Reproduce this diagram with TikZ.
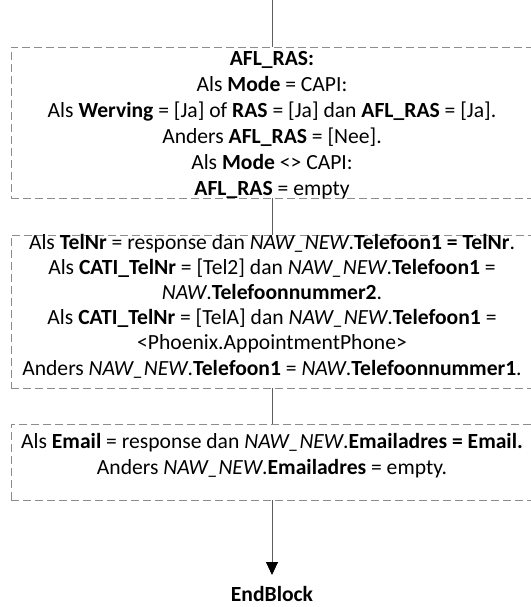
\documentclass[tikz,border=0pt]{standalone}
\usepackage{fontspec}
\setmainfont{Carlito}
\usetikzlibrary{arrows.meta}
\definecolor{boxgray}{RGB}{140,140,140}
\definecolor{linegray}{RGB}{95,95,95}
\tikzset{
  x=1pt,y=-1pt,
  dbox/.style={draw=boxgray,line width=0.9pt,dash pattern=on 8pt off 4pt,rectangle,minimum width=522pt,inner sep=0pt},
  txt/.style={align=center,font=\fontsize{21.6}{25.2}\selectfont,inner sep=0pt},
  conn/.style={draw=linegray,line width=0.9pt},
}
\begin{document}
\begin{tikzpicture}
\useasboundingbox (0,0) rectangle (530,607);
\coordinate (top) at (272,0);
\node[dbox,minimum height=151pt] (b1) at (272,122.5) {};
\node[txt,font=\fontsize{21.6}{26}\selectfont] (t1) at (272,125.5) {\textbf{AFL\_RAS:}\\
Als \textbf{Mode} = CAPI:\\
Als \textbf{Werving} = [Ja] of \textbf{RAS} = [Ja] dan \textbf{AFL\_RAS} = [Ja].\\
Anders \textbf{AFL\_RAS} = [Nee].\\
Als \textbf{Mode} <> CAPI:\\
\textbf{AFL\_RAS} = empty};
\node[dbox,minimum height=153pt] (b2) at (272,311.5) {};
\node[txt] (t2) at (272,306) {Als \textbf{TelNr} = response dan \textit{NAW\_NEW}.\textbf{Telefoon1 = TelNr}.\\
Als \textbf{CATI\_TelNr} = [Tel2] dan \textit{NAW\_NEW}.\textbf{Telefoon1} =\\
\textit{NAW}.\textbf{Telefoonnummer2}.\\
Als \textbf{CATI\_TelNr} = [TelA] dan \textit{NAW\_NEW}.\textbf{Telefoon1} =\\
<Phoenix.AppointmentPhone>\\
Anders \textit{NAW\_NEW}.\textbf{Telefoon1} = \textit{NAW}.\textbf{Telefoonnummer1}.};
\node[dbox,minimum height=76pt] (b3) at (272,462) {};
\node[txt,font=\fontsize{21.6}{26}\selectfont] (t3) at (272,456) {Als \textbf{Email} = response dan \textit{NAW\_NEW}.\textbf{Emailadres = Email.}\\
Anders \textit{NAW\_NEW}.\textbf{Emailadres} = empty.};
\node[txt,font=\fontsize{21.6}{24}\selectfont\bfseries,anchor=north] (end) at (272,586) {EndBlock};
\draw[conn] (top) -- (b1.north);
\draw[conn] (b1.south) -- (b2.north);
\draw[conn] (b2.south) -- (b3.north);
\draw[conn,-{Triangle[length=13pt,width=12pt,color=black]},shorten >=11pt] (b3.south) -- (end.north);
\end{tikzpicture}
\end{document}
